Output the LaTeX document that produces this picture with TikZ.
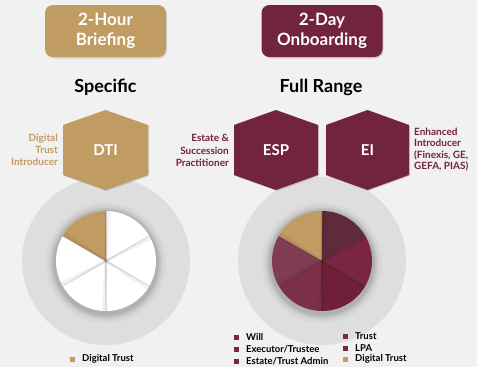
\documentclass[tikz,border=0pt]{standalone}
\usepackage{fontspec}
\setmainfont{Lato}
\usetikzlibrary{shadows}
\definecolor{bg}{HTML}{F1F1F1}
\definecolor{gold}{HTML}{C09B62}
\definecolor{maroon}{HTML}{72233D}
\definecolor{ring}{HTML}{DEDEDE}
\definecolor{sA}{HTML}{5F2A3A}
\definecolor{sB}{HTML}{7A2642}
\definecolor{sC}{HTML}{6F2038}
\definecolor{sD}{HTML}{7C3048}
\definecolor{sE}{HTML}{7F3C52}
\definecolor{legm}{HTML}{7A2642}
\tikzset{
  hdr/.style={rounded corners=8pt, minimum width=121pt, minimum height=52pt, align=center,
    text=white, font=\bfseries\fontsize{17}{20.5}\selectfont,
    drop shadow={opacity=0.25, shadow xshift=1pt, shadow yshift=-1.5pt}},
  ttl/.style={font=\bfseries\fontsize{18}{20}\selectfont, text=black},
  hexfill/.style={drop shadow={opacity=0.3, shadow xshift=1pt, shadow yshift=-1pt}},
  hextext/.style={text=white, font=\bfseries\fontsize{15}{17}\selectfont},
  lbl/.style={font=\bfseries\fontsize{10}{12.3}\selectfont},
  leg/.style={font=\bfseries\fontsize{9.5}{11}\selectfont, text=black, anchor=west, inner sep=0pt},
  legsq/.style={minimum size=5pt, inner sep=0pt},
  radius line/.style={line width=1.4pt, draw=black, opacity=0.12},
}
\begin{document}
\begin{tikzpicture}[x=1pt,y=-1pt]
\fill[bg] (0,0) rectangle (477,367);
\useasboundingbox (0,0) rectangle (477,367);

% header boxes
\node[hdr, fill=gold] (brief) at (105.5,31) {2-Hour\\Briefing};
\node[hdr, fill=maroon] (onb) at (322,31) {2-Day\\Onboarding};
\node[ttl] (spec) at (105.5,87) {Specific};
\node[ttl] (full) at (321,87) {Full Range};

% rings
\fill[ring] (106,261) circle (84pt);
\fill[ring] (322,261) circle (84pt);

% left pie
\begin{scope}[shift={(106,261)}, x=1pt, y=1pt]
  \foreach \r/\o in {60/0.03,57/0.04,55/0.06,53/0.08}{\fill[black, opacity=\o] (0,-2) circle (\r pt);}
  \fill[white] (0,0) circle (50pt);
  \fill[gold] (0,0) -- (90:50) arc[start angle=90, end angle=150, radius=50] -- cycle;
  \foreach \a in {90,30,-30,-90,-150,150}{
    \draw[radius line] (0,0) -- (\a:50);
    \draw[line width=3pt, black, opacity=0.05] (0,0) -- (\a-3:50);
  }
\end{scope}

% right pie
\begin{scope}[shift={(322,261)}, x=1pt, y=1pt]
  \foreach \r/\o in {60/0.03,57/0.04,55/0.06,53/0.08}{\fill[black, opacity=\o] (0,-2) circle (\r pt);}
  \fill[sA] (0,0) -- (30:50) arc[start angle=30, end angle=90, radius=50] -- cycle;
  \fill[sB] (0,0) -- (-30:50) arc[start angle=-30, end angle=30, radius=50] -- cycle;
  \fill[sC] (0,0) -- (-90:50) arc[start angle=-90, end angle=-30, radius=50] -- cycle;
  \fill[sD] (0,0) -- (-150:50) arc[start angle=-150, end angle=-90, radius=50] -- cycle;
  \fill[sE] (0,0) -- (150:50) arc[start angle=150, end angle=210, radius=50] -- cycle;
  \fill[gold] (0,0) -- (90:50) arc[start angle=90, end angle=150, radius=50] -- cycle;
  \foreach \a in {90,30,-30,-90,-150,150}{
    \draw[radius line] (0,0) -- (\a:50);
    \draw[line width=3pt, black, opacity=0.05] (0,0) -- (\a-3:50);
  }
\end{scope}

% hexagons
\fill[gold, hexfill] (105.5,110) -- (148,125) -- (148,175) -- (105.5,190) -- (63,175) -- (63,125) -- cycle;
\node[hextext] (dti) at (105.5,150) {DTI};
\fill[maroon, hexfill] (276,110) -- (318,125) -- (318,175) -- (276,190) -- (234,175) -- (234,125) -- cycle;
\node[hextext] (esp) at (276,150) {ESP};
\fill[maroon, hexfill] (367.5,110) -- (409,125) -- (409,175) -- (367.5,190) -- (326,175) -- (326,125) -- cycle;
\node[hextext] (ei) at (367.5,150) {EI};

% side labels
\node[lbl, text=gold, align=right, anchor=east, inner sep=0pt] (ldti) at (58,150) {Digital\\Trust\\Introducer};
\node[lbl, text=maroon, align=right, anchor=east, inner sep=0pt] (lesp) at (229,150.5) {Estate \&\\Succession\\Practitioner};
\node[lbl, text=maroon, align=left, anchor=west, inner sep=0pt, font=\bfseries\fontsize{10}{11.2}\selectfont] (lei) at (414,149.5) {Enhanced\\Introducer\\(Finexis, GE,\\GEFA, PIAS)};

% legends
\node[legsq, fill=gold] (q0) at (72,359) {};
\node[leg] (t0) at (82,359) {Digital Trust};

\node[legsq, fill=legm] (q1) at (236,337) {};
\node[leg] (t1) at (246,337) {Will};
\node[legsq, fill=legm] (q2) at (236,349) {};
\node[leg] (t2) at (246,349) {Executor/Trustee};
\node[legsq, fill=legm] (q3) at (236,361) {};
\node[leg] (t3) at (246,361) {Estate/Trust Admin};
\node[legsq, fill=legm] (q4) at (345,336) {};
\node[leg] (t4) at (355,336) {Trust};
\node[legsq, fill=legm] (q5) at (345,348) {};
\node[leg] (t5) at (355,348) {LPA};
\node[legsq, fill=gold] (q6) at (345,359) {};
\node[leg] (t6) at (355,359) {Digital Trust};
\end{tikzpicture}
\end{document}
